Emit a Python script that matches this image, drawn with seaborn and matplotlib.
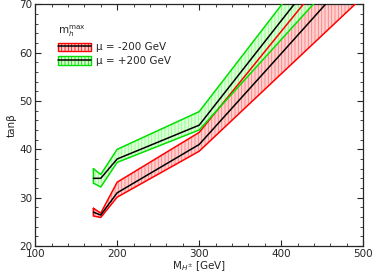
import numpy as np
import pandas as pd
import matplotlib
matplotlib.use("Agg")
import matplotlib.pyplot as plt
import seaborn as sns
from matplotlib.patches import Patch
from matplotlib.lines import Line2D
from matplotlib.ticker import MultipleLocator

# charged Higgs mass points [GeV]
mass = [171, 180, 200, 300, 400, 500]

# mu = -200 GeV band
red_upper = [27.8, 26.8, 33.2, 43.5, 64.4, 85.2]
red_center = [27.0, 26.4, 31.0, 41.0, 59.8, 78.7]
red_lower = [26.2, 25.9, 30.1, 39.6, 55.6, 71.6]

# mu = +200 GeV band
green_upper = [36.0, 34.8, 40.0, 47.8, 69.8, 91.8]
green_center = [34.0, 34.0, 38.0, 45.0, 66.6, 88.1]
green_lower = [33.0, 32.2, 37.3, 44.0, 62.7, 81.4]

labels = ["μ = -200 GeV", "μ = +200 GeV"]

sns.set_style("ticks")
plt.rcParams['font.family'] = ['DejaVu Sans']
plt.rcParams['hatch.linewidth'] = 0.6

fig = plt.figure(figsize=(3.74, 2.73), dpi=100)
ax = fig.add_axes([0.094, 0.099, 0.877, 0.885])

df = pd.DataFrame({"mass": mass, "red": red_center, "green": green_center})

# shaded bands
ax.fill_between(mass, red_lower, red_upper, facecolor="#ffd0d0",
                edgecolor="#ff8080", hatch="|||||", linewidth=0, zorder=1)
ax.fill_between(mass, green_lower, green_upper, facecolor="#d8ffd0",
                edgecolor="#80ff80", hatch="|||||", linewidth=0, alpha=0.85, zorder=2)

# closed band outlines
ax.plot(mass + mass[::-1] + mass[:1], red_upper + red_lower[::-1] + red_upper[:1],
        color="#ff0000", lw=1.1, zorder=3)
ax.plot(mass + mass[::-1] + mass[:1], green_upper + green_lower[::-1] + green_upper[:1],
        color="#00e000", lw=1.1, zorder=3)

sns.lineplot(data=df, x="mass", y="red", color="black", lw=1.1, ax=ax, zorder=4)
sns.lineplot(data=df, x="mass", y="green", color="black", lw=1.1, ax=ax, zorder=4)

ax.set_xlim(100, 500)
ax.set_ylim(20, 70)
ax.xaxis.set_major_locator(MultipleLocator(100))
ax.xaxis.set_minor_locator(MultipleLocator(20))
ax.yaxis.set_major_locator(MultipleLocator(10))
ax.yaxis.set_minor_locator(MultipleLocator(2))
ax.tick_params(which="both", direction="in", top=True, right=True, labelsize=7.5, pad=2)
ax.tick_params(which="major", length=4, width=0.8)
ax.tick_params(which="minor", length=2, width=0.6)
for s in ax.spines.values():
    s.set_linewidth(0.9)

ax.set_xlabel("M$_{H^{\\pm}}$ [GeV]", fontsize=7.5, labelpad=0)
ax.set_ylabel("tanβ", fontsize=7.5, labelpad=2)

handles = [
    (Patch(facecolor="#ffd0d0", edgecolor="#ff0000", hatch="|||||", lw=1),
     Line2D([], [], color="black", lw=1.1)),
    (Patch(facecolor="#d8ffd0", edgecolor="#00e000", hatch="|||||", lw=1),
     Line2D([], [], color="black", lw=1.1)),
]
leg = ax.legend(handles, labels, loc="upper left", bbox_to_anchor=(0.04, 0.96),
                frameon=False, fontsize=7.5, title="m$_h^{\\rm max}$",
                title_fontsize=7.5, handlelength=3.2, handleheight=0.9,
                handletextpad=0.5, labelspacing=0.35)
leg._legend_box.align = "left"

fig.savefig("out.png", dpi=100)
